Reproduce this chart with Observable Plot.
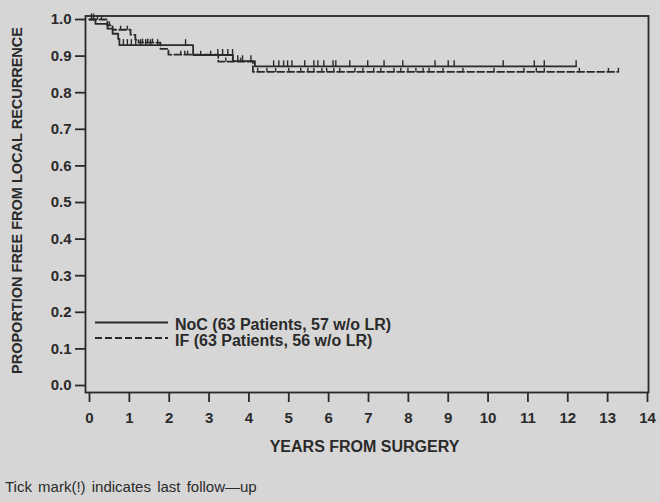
<!DOCTYPE html>
<html><head><meta charset="utf-8">
<script src="https://cdn.jsdelivr.net/npm/d3@7"></script>
<script src="https://cdn.jsdelivr.net/npm/@observablehq/plot@0.6"></script>
<style>
html,body{margin:0;padding:0;background:#d6d6d6;}
#wrap{position:relative;width:660px;height:502px;font-family:"Liberation Sans",Arial,sans-serif;color:#2a2a2a;}
#chart svg{display:block;}
#foot{position:absolute;left:5px;top:478px;font-size:15px;word-spacing:2px;}
</style></head><body>
<div id="wrap"><div id="chart"></div><div id="foot">Tick mark(!) indicates last follow—up</div></div>
<script>
// ---- data ----
const xTicks = [0,1,2,3,4,5,6,7,8,9,10,11,12,13,14];
const yTicks = [0,0.1,0.2,0.3,0.4,0.5,0.6,0.7,0.8,0.9,1.0];

const nocStepTimes  = [0, 0.15, 0.45, 0.58, 0.72, 0.75, 2.6, 3.6, 4.15];
const nocStepValues = [1.0, 0.988, 0.975, 0.961, 0.947, 0.930, 0.903, 0.886, 0.872];
const nocLastFollowUp = 12.21;
const nocCensorTimes = [0.05, 0.1, 0.85, 0.95, 1.05, 1.16, 1.28, 1.41, 1.53, 1.71, 2.41,
  3.22, 3.34, 3.47, 3.59, 3.72, 3.84, 4.05,
  4.62, 4.75, 4.87, 4.97, 5.08, 5.40, 5.63, 5.73, 5.88, 6.11, 6.18, 6.53, 6.98, 7.39, 7.86,
  8.67, 9.0, 9.15, 10.38, 11.16, 11.41, 12.21];

const ifStepTimes  = [0, 0.45, 0.58, 1.03, 1.15, 1.23, 1.78, 1.98, 3.23, 4.1];
const ifStepValues = [1.0, 0.984, 0.972, 0.958, 0.945, 0.937, 0.920, 0.904, 0.885, 0.857];
const ifLastFollowUp = 13.27;
const ifCensorTimes = [0.2, 0.3, 0.5, 0.78, 0.95, 1.33, 1.46, 1.58, 2.29, 2.39, 2.46, 2.79, 3.04,
  3.42, 3.59, 3.79, 4.22, 4.45, 4.67, 5.0, 5.3, 5.48, 5.63, 5.83, 5.95, 6.13, 6.28, 6.66, 6.86,
  7.13, 7.31, 7.64, 7.81, 7.99, 8.19, 8.37, 8.52, 8.87, 9.37, 10.15, 10.90, 11.21, 11.41,
  12.29, 13.02, 13.27];

const legendLabels = ["NoC (63 Patients, 57 w/o LR)", "IF (63 Patients, 56 w/o LR)"];
const xLabel = "YEARS FROM SURGERY";
const yLabel = "PROPORTION FREE FROM LOCAL RECURRENCE";

// ---- build tables ----
const INK = "#2a2a2a";
function stepPoints(times, values, last) {
  const pts = times.map((t, i) => ({t, v: values[i]}));
  pts.push({t: last, v: values[values.length - 1]});
  return pts;
}
function valueAt(times, values, t) {
  let v = values[0];
  for (let i = 0; i < times.length; i++) if (times[i] <= t) v = values[i];
  return v;
}
const nocLine = stepPoints(nocStepTimes, nocStepValues, nocLastFollowUp);
const ifLine = stepPoints(ifStepTimes, ifStepValues, ifLastFollowUp);
const nocCens = nocCensorTimes.map(t => ({t, v: valueAt(nocStepTimes, nocStepValues, t)}));
const ifCens = ifCensorTimes.map(t => ({t, v: valueAt(ifStepTimes, ifStepValues, t)}));

const tickUp = h => ({draw(ctx) { ctx.moveTo(0, 0); ctx.lineTo(0, -h); }});

const chart = Plot.plot({
  width: 660, height: 465,
  marginLeft: 89, marginRight: 13, marginTop: 19, marginBottom: 80,
  style: {background: "transparent", fontFamily: "Liberation Sans, Arial, sans-serif", fontSize: "15px", fontWeight: "bold", color: INK},
  x: {domain: [0, 14]},
  y: {domain: [0, 1]},
  marks: [
    Plot.frame({stroke: INK, strokeWidth: 1.8, insetLeft: -4, insetTop: -3.5, insetRight: -1, insetBottom: -7}),
    Plot.axisX({ticks: xTicks, tickSize: 10, tickPadding: 10, dy: 7, label: null, stroke: INK, strokeWidth: 1.8, fill: INK}),
    Plot.axisY({ticks: yTicks, tickSize: 10, tickPadding: 4, dx: -4, tickFormat: d3.format(".1f"), label: null, stroke: INK, strokeWidth: 1.8, fill: INK}),
    Plot.text([xLabel], {frameAnchor: "bottom", lineAnchor: "middle", dy: 61, dx: -4, fontSize: 16, fontWeight: "bold", fill: INK}),
    Plot.text([yLabel], {frameAnchor: "left", textAnchor: "middle", lineAnchor: "middle", dx: -72, dy: -2, rotate: -90, fontSize: 14.5, fontWeight: "bold", fill: INK, style: "word-spacing:3px"}),
    Plot.line(nocLine, {x: "t", y: "v", curve: "step-after", stroke: INK, strokeWidth: 1.8}),
    Plot.line(ifLine, {x: "t", y: "v", curve: "step-after", stroke: INK, strokeWidth: 1.8, strokeDasharray: "7,3"}),
    Plot.dot(nocCens, {x: "t", y: "v", symbol: tickUp(6), r: 3, stroke: INK, fill: "none", strokeWidth: 1.4}),
    Plot.dot(ifCens, {x: "t", y: "v", symbol: tickUp(4), r: 3, stroke: INK, fill: "none", strokeWidth: 1.4})
  ]
});
document.getElementById("chart").appendChild(chart);

// ---- legend (inside plot, lower left) ----
const svg = d3.select(chart);
const lg = svg.append("g").attr("font-family", "Liberation Sans, Arial, sans-serif").attr("font-size", 16)
  .attr("font-weight", "bold").attr("fill", INK).attr("text-anchor", "start");
const dashes = [null, "7,3"];
legendLabels.forEach((lab, i) => {
  const yy = 322.5 + i * 15.5;
  lg.append("line").attr("x1", 95).attr("x2", 168).attr("y1", yy).attr("y2", yy)
    .attr("stroke", INK).attr("stroke-width", 1.8).attr("stroke-dasharray", dashes[i]);
  lg.append("text").attr("x", 175).attr("y", yy + 7.5).attr("text-anchor", "start").text(lab);
});
</script>
</body></html>
